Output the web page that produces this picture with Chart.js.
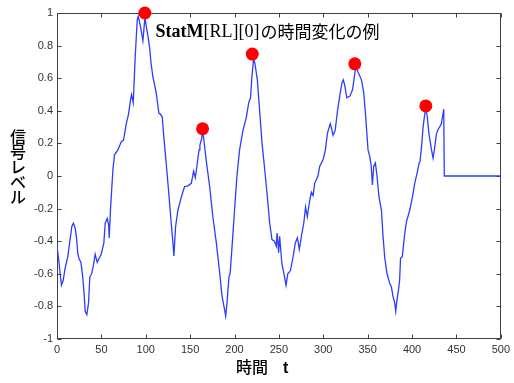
<!DOCTYPE html>
<html>
<head>
<meta charset="utf-8">
<script src="https://cdn.jsdelivr.net/npm/chart.js@4/dist/chart.umd.min.js"></script>
<style>
html,body{margin:0;padding:0;background:#fff;}
#wrap{width:514px;height:383px;position:relative;}
</style>
</head>
<body>
<div id="wrap"><canvas id="c" width="514" height="383"></canvas></div>
<script>
// time axis values (t) and signal level (StatM[RL][0])
const timeT = [0,2,5,7,9,12,14,16.7,18.5,20.5,22,23.5,25,27,29,30.5,31.8,33.6,35.5,37,39,41,43,45.3,47,49.8,52.8,54.3,56.6,58.2,58.8,60.3,63,64.8,68.6,72.4,75,78,80.6,82.9,84,85.9,88.1,90.4,91.5,94,96.8,99,102.4,104.3,106,108,111.8,114.8,116.5,118.6,120,123,126,128.7,130.6,131.7,133.6,136.2,140,143.7,147.5,151.3,153.9,155.8,157.6,160,161,163,164,165.5,168,172,175.6,179.5,183,186,188.8,190,191.5,193.7,195,197.5,200,202.7,205.7,209.5,213.3,216,218,219.6,221.5,223,225.7,228.3,231,234,237,239.6,242.2,245,247,248,249.7,250.8,253.4,255.7,258,260,263,265.8,268.5,270.8,273,275.3,278,280,282,284.7,286.6,288.5,290.3,294,296,299.7,302.4,304.6,307.2,308,311,313.4,316,318.5,321,322.5,324,326.5,330,333,334.5,336.5,339,343,345.6,347.8,350.4,352.3,354,355.3,356.8,358.7,360.5,362.8,365.5,367.3,369.2,371.8,374.9,376.7,378.6,380.5,381.6,383,384.7,386,387,389,391.8,393.7,397.4,400.4,403,405.6,408,409,411,412.4,414.3,415.5,417,419,421.9,423.7,425.6,427.5,429.7,431,433,435.7,436.3,500];
const level = [-0.43,-0.52,-0.67,-0.64,-0.57,-0.50,-0.42,-0.31,-0.29,-0.32,-0.38,-0.48,-0.51,-0.53,-0.62,-0.72,-0.83,-0.85,-0.78,-0.62,-0.60,-0.55,-0.48,-0.53,-0.51,-0.48,-0.41,-0.29,-0.26,-0.30,-0.38,-0.20,0.04,0.13,0.16,0.21,0.22,0.32,0.38,0.47,0.50,0.45,0.73,0.96,0.98,0.92,0.83,0.97,0.86,0.79,0.69,0.61,0.51,0.385,0.38,0.36,0.26,0.08,-0.11,-0.29,-0.41,-0.49,-0.31,-0.21,-0.13,-0.065,-0.06,-0.045,0.03,-0.01,0.06,0.16,0.19,0.23,0.28,0.22,0.10,-0.065,-0.25,-0.41,-0.58,-0.74,-0.82,-0.86,-0.78,-0.62,-0.60,-0.41,-0.21,0.00,0.16,0.28,0.36,0.45,0.48,0.61,0.72,0.69,0.59,0.40,0.20,0.04,-0.13,-0.29,-0.39,-0.40,-0.43,-0.35,-0.47,-0.37,-0.54,-0.60,-0.67,-0.60,-0.58,-0.50,-0.41,-0.38,-0.45,-0.37,-0.29,-0.19,-0.25,-0.15,-0.10,-0.12,-0.045,0.00,0.06,0.10,0.16,0.26,0.31,0.32,0.25,0.28,0.40,0.49,0.57,0.59,0.56,0.48,0.49,0.53,0.59,0.67,0.64,0.59,0.51,0.36,0.16,0.12,0.06,-0.055,0.06,0.08,0.00,-0.13,-0.21,-0.37,-0.50,-0.60,-0.66,-0.68,-0.74,-0.78,-0.83,-0.76,-0.70,-0.64,-0.505,-0.495,-0.35,-0.28,-0.21,-0.13,-0.045,0.016,0.08,0.09,0.20,0.30,0.38,0.41,0.37,0.26,0.16,0.11,0.18,0.26,0.29,0.30,0.32,0.41,0.00,0.00];
// detected peaks
const peakT = [99, 164, 220, 335.5, 415.5];
const peakV = [1.0, 0.29, 0.748, 0.688, 0.43];
// axis tick values
const xTicks = [0,50,100,150,200,250,300,350,400,450,500];
const yTicks = [-1,-0.8,-0.6,-0.4,-0.2,0,0.2,0.4,0.6,0.8,1];
const titleParts = ["StatM", "[RL][0]", "の時間変化の例"];
const yLabelText = "信号レベル";
const xLabelMain = "時間";
const xLabelVar = "t";

const linePts = timeT.map((t,i)=>({x:t,y:level[i]}));
const peakPts = peakT.map((t,i)=>({x:t,y:peakV[i]}));

const framePlugin = {
  id:'frame',
  beforeDatasetsDraw(chart){
    const {ctx, chartArea:a, scales:{x,y}} = chart;
    ctx.save();
    ctx.strokeStyle='#404040';
    ctx.lineWidth=1;
    const L=Math.round(a.left)+0.5, R=Math.round(a.right)-0.5, T=Math.round(a.top)+0.5, B=Math.round(a.bottom)-0.5;
    ctx.strokeRect(L,T,R-L,B-T);
    ctx.beginPath();
    xTicks.forEach(v=>{
      const px=Math.round(x.getPixelForValue(v))+0.5;
      ctx.moveTo(px,B); ctx.lineTo(px,B-4);
      ctx.moveTo(px,T); ctx.lineTo(px,T+4);
    });
    yTicks.forEach(v=>{
      const py=Math.round(y.getPixelForValue(v))+0.5;
      ctx.moveTo(L,py); ctx.lineTo(L+4,py);
      ctx.moveTo(R,py); ctx.lineTo(R-4,py);
    });
    ctx.stroke();
    ctx.restore();
  },
  afterDraw(chart){
    const {ctx, chartArea:a, scales:{x,y}} = chart;
    ctx.save();
    ctx.fillStyle='#000';
    ctx.textBaseline='alphabetic';
    // title inside plot
    let tx = x.getPixelForValue(111), ty = a.top + 24;
    ctx.textAlign='left';
    ctx.font='bold 18px "Liberation Serif"';
    ctx.fillText(titleParts[0],tx,ty); tx += ctx.measureText(titleParts[0]).width;
    ctx.font='18px "Liberation Serif"';
    ctx.fillText(titleParts[1],tx,ty); tx += ctx.measureText(titleParts[1]).width;
    ctx.font='17px "Noto Sans CJK JP"';
    ctx.fillText(titleParts[2],tx+1,ty+1);
    // y label vertical
    ctx.font='500 16px "Noto Sans CJK JP"';
    ctx.textAlign='center';
    ctx.textBaseline='middle';
    const chars=[...yLabelText];
    let cy = y.getPixelForValue(0.24);
    chars.forEach(ch=>{ ctx.fillText(ch,18,cy); cy+=15; });
    // x label
    const cx=(a.left+a.right)/2;
    ctx.textAlign='left';
    ctx.textBaseline='alphabetic';
    ctx.font='500 16px "Noto Sans CJK JP"';
    ctx.fillText(xLabelMain,cx-43,373);
    ctx.font='bold 16px "Liberation Sans"';
    ctx.fillText(xLabelVar,cx+4,373);
    ctx.restore();
  }
};

new Chart(document.getElementById('c'),{
  type:'line',
  data:{datasets:[
    {data:peakPts, type:'scatter', showLine:false, pointRadius:6.5, pointHoverRadius:6.5, pointBackgroundColor:'#ff0000', pointBorderColor:'#ff0000', pointBorderWidth:0, clip:false, order:0},
    {data:linePts, borderColor:'rgb(45,60,255)', borderWidth:1.3, pointRadius:0, tension:0, fill:false, order:1}
  ]},
  options:{
    responsive:false, animation:false,
    layout:{padding:{left:0,top:13,right:13,bottom:0}},
    plugins:{legend:{display:false},tooltip:{enabled:false}},
    scales:{
      x:{type:'linear',min:0,max:500,
        afterBuildTicks(s){s.ticks=xTicks.map(v=>({value:v}));},
        afterFit(s){s.height=44;},
        grid:{display:false,drawTicks:false},border:{display:false},
        ticks:{padding:4,color:'#333',font:{family:'"Liberation Sans"',size:11},maxRotation:0,autoSkip:false,callback:v=>String(v)}},
      y:{type:'linear',min:-1,max:1,
        afterBuildTicks(s){s.ticks=yTicks.map(v=>({value:v}));},
        afterFit(s){s.width=57;},
        grid:{display:false,drawTicks:false},border:{display:false},
        ticks:{padding:4,color:'#333',font:{family:'"Liberation Sans"',size:11},autoSkip:false,callback:v=>String(Math.round(v*10)/10)}}
    }
  },
  plugins:[framePlugin]
});
</script>
</body>
</html>
